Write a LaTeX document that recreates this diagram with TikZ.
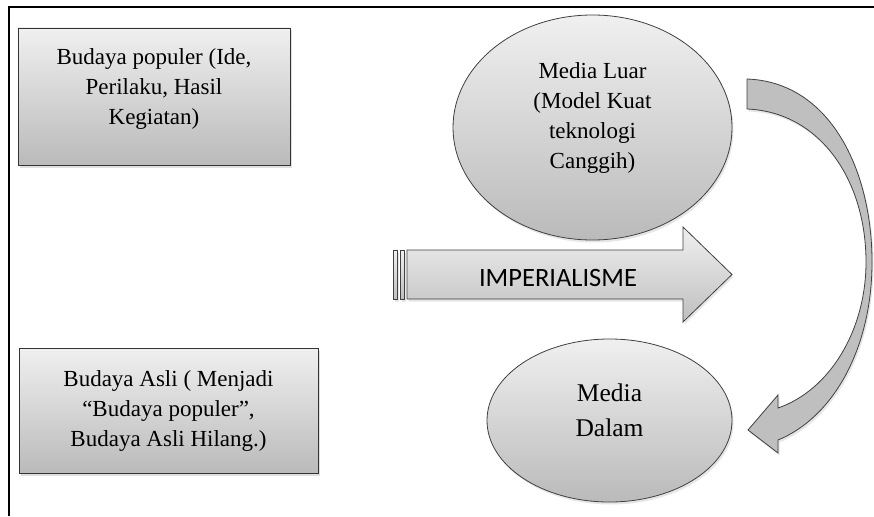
\documentclass[tikz,border=0pt]{standalone}
\usepackage{fontspec}
\setmainfont{Liberation Serif}
\newfontfamily\calibri{Carlito}
\usepackage{xcolor}
\usetikzlibrary{shapes.geometric, shadows, positioning}

\begin{document}
\begin{tikzpicture}[x=1pt, y=-1pt,
    every node/.style={font=\fontsize{23}{30}\selectfont, align=center, inner sep=0pt},
    box/.style={draw=black!80, thick, rectangle, top color=black!6, bottom color=black!27,
        drop shadow={shadow xshift=1.5pt, shadow yshift=-2.5pt, opacity=0.25}},
    oval/.style={draw=black!75, thick, ellipse, top color=black!6, bottom color=black!27,
        drop shadow={shadow xshift=1.5pt, shadow yshift=-2.5pt, opacity=0.2}},
    blockarrow/.style={draw=black!75, thick, top color=black!6, bottom color=black!25,
        drop shadow={shadow xshift=1.5pt, shadow yshift=-2.5pt, opacity=0.2}}]
    \useasboundingbox (0,0) rectangle (874,516);
    \draw[line width=2.5pt] (9,516) -- (9,7) -- (874,7);

    % Budaya
    \node (pop) [box, minimum width=272pt, minimum height=137pt] at (154,96.5) {};
    \node (poptext) at ([yshift=7pt]pop.center) {Budaya populer (Ide,\\ Perilaku, Hasil\\ Kegiatan)};
    \node (asli) [box, minimum width=299pt, minimum height=125pt] at (168.5,410.5) {};
    \node (aslitext) at (asli.center) {Budaya Asli ( Menjadi\\ “Budaya populer”,\\ Budaya Asli Hilang.)};

    % Media
    \node (luar) [oval, minimum width=279pt, minimum height=225pt] at (592.5,127.5) {};
    \node (luartext) at ([yshift=9pt]luar.center) {Media Luar\\ (Model Kuat\\ teknologi\\ Canggih)};
    \node (dalam) [oval, minimum width=245pt, minimum height=163pt] at (609.5,420.5) {};
    \node (dalamtext) [font=\fontsize{25.5}{35}\selectfont] at ([yshift=10pt]dalam.center) {Media\\ Dalam};

    % Imperialisme
    \draw[blockarrow] (393,250) rectangle (397,299);
    \draw[blockarrow] (400,250) rectangle (404,299);
    \draw[blockarrow] (407,250) -- (683,250) -- (683,227) -- (732,274.5) -- (683,322) -- (683,299) -- (407,299) -- cycle;
    \node (imp) [font=\calibri\fontsize{26.5}{30}\selectfont] at (558,278) {IMPERIALISME};

    % Luar ke Dalam
    \draw[draw=black!75, thick, fill=black!25, drop shadow={shadow xshift=1.5pt, shadow yshift=-2.5pt, opacity=0.2}]
        (747,79) .. controls (830,82) and (872,170) .. (872,262)
        .. controls (872,350) and (832,418) .. (778,440)
        -- (778,453) -- (748,430) -- (778,395) -- (778,408)
        .. controls (830,390) and (866,330) .. (866,262)
        .. controls (866,180) and (820,112) .. (747,109) -- cycle;
\end{tikzpicture}
\end{document}
